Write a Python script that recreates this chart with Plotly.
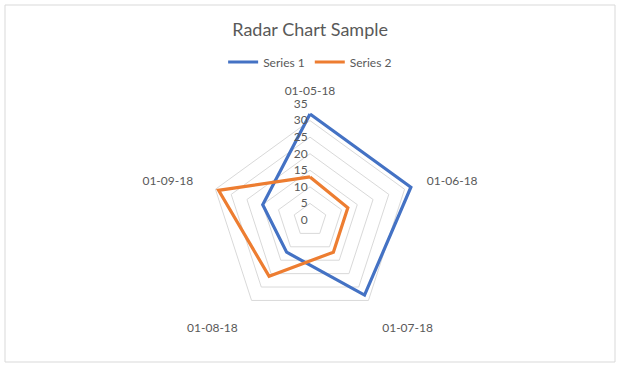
import plotly.graph_objects as go

categories = ["01-05-18", "01-06-18", "01-07-18", "01-08-18", "01-09-18"]
series1 = [32, 32, 28, 12, 15]
series2 = [13, 12, 12, 21, 29]
radial_ticks = [0, 5, 10, 15, 20, 25, 30, 35]

W, H = 624, 369
cx, cy, R = 310, 220, 116

fig = go.Figure()
for name, vals, color in [("Series 1", series1, "#4472C4"), ("Series 2", series2, "#ED7D31")]:
    fig.add_trace(go.Scatterpolar(
        r=vals + vals[:1], theta=categories + categories[:1],
        mode="lines", name=name, line=dict(color=color, width=3.2),
    ))

fig.update_layout(
    width=W, height=H,
    margin=dict(l=0, r=0, t=0, b=0),
    paper_bgcolor="white",
    font=dict(family="Lato", color="#595959"),
    title=dict(text="Radar Chart Sample", x=0.497, xanchor="center", y=1 - 30 / H,
               yanchor="middle", font=dict(size=18, color="#595959")),
    showlegend=True,
    legend=dict(orientation="h", x=0.497, xanchor="center", y=1 - 62 / H, yanchor="middle",
                font=dict(size=12, color="#595959")),
    polar=dict(
        domain=dict(x=[(cx - R) / W, (cx + R) / W], y=[(H - cy - R) / H, (H - cy + R) / H]),
        bgcolor="white",
        gridshape="linear",
        radialaxis=dict(range=[0, 35], tickvals=radial_ticks, angle=90, showline=False,
                        gridcolor="#d9d9d9", gridwidth=1, ticks="", tickangle=90,
                        side="counterclockwise",
                        tickfont=dict(size=12, color="#595959")),
        angularaxis=dict(rotation=90, direction="clockwise", showgrid=False, showline=False,
                         type="category", ticks="outside", ticklen=4,
                         tickcolor="rgba(0,0,0,0)", tickfont=dict(size=12, color="#595959")),
    ),
    shapes=[dict(type="rect", xref="paper", yref="paper",
                 x0=5 / W, x1=615 / W, y0=1 - 362 / H, y1=1 - 5 / H,
                 line=dict(color="#d9d9d9", width=1))],
)

fig.write_html("out.html", config={"displayModeBar": False},
               post_script="document.body.style.margin='0';")
